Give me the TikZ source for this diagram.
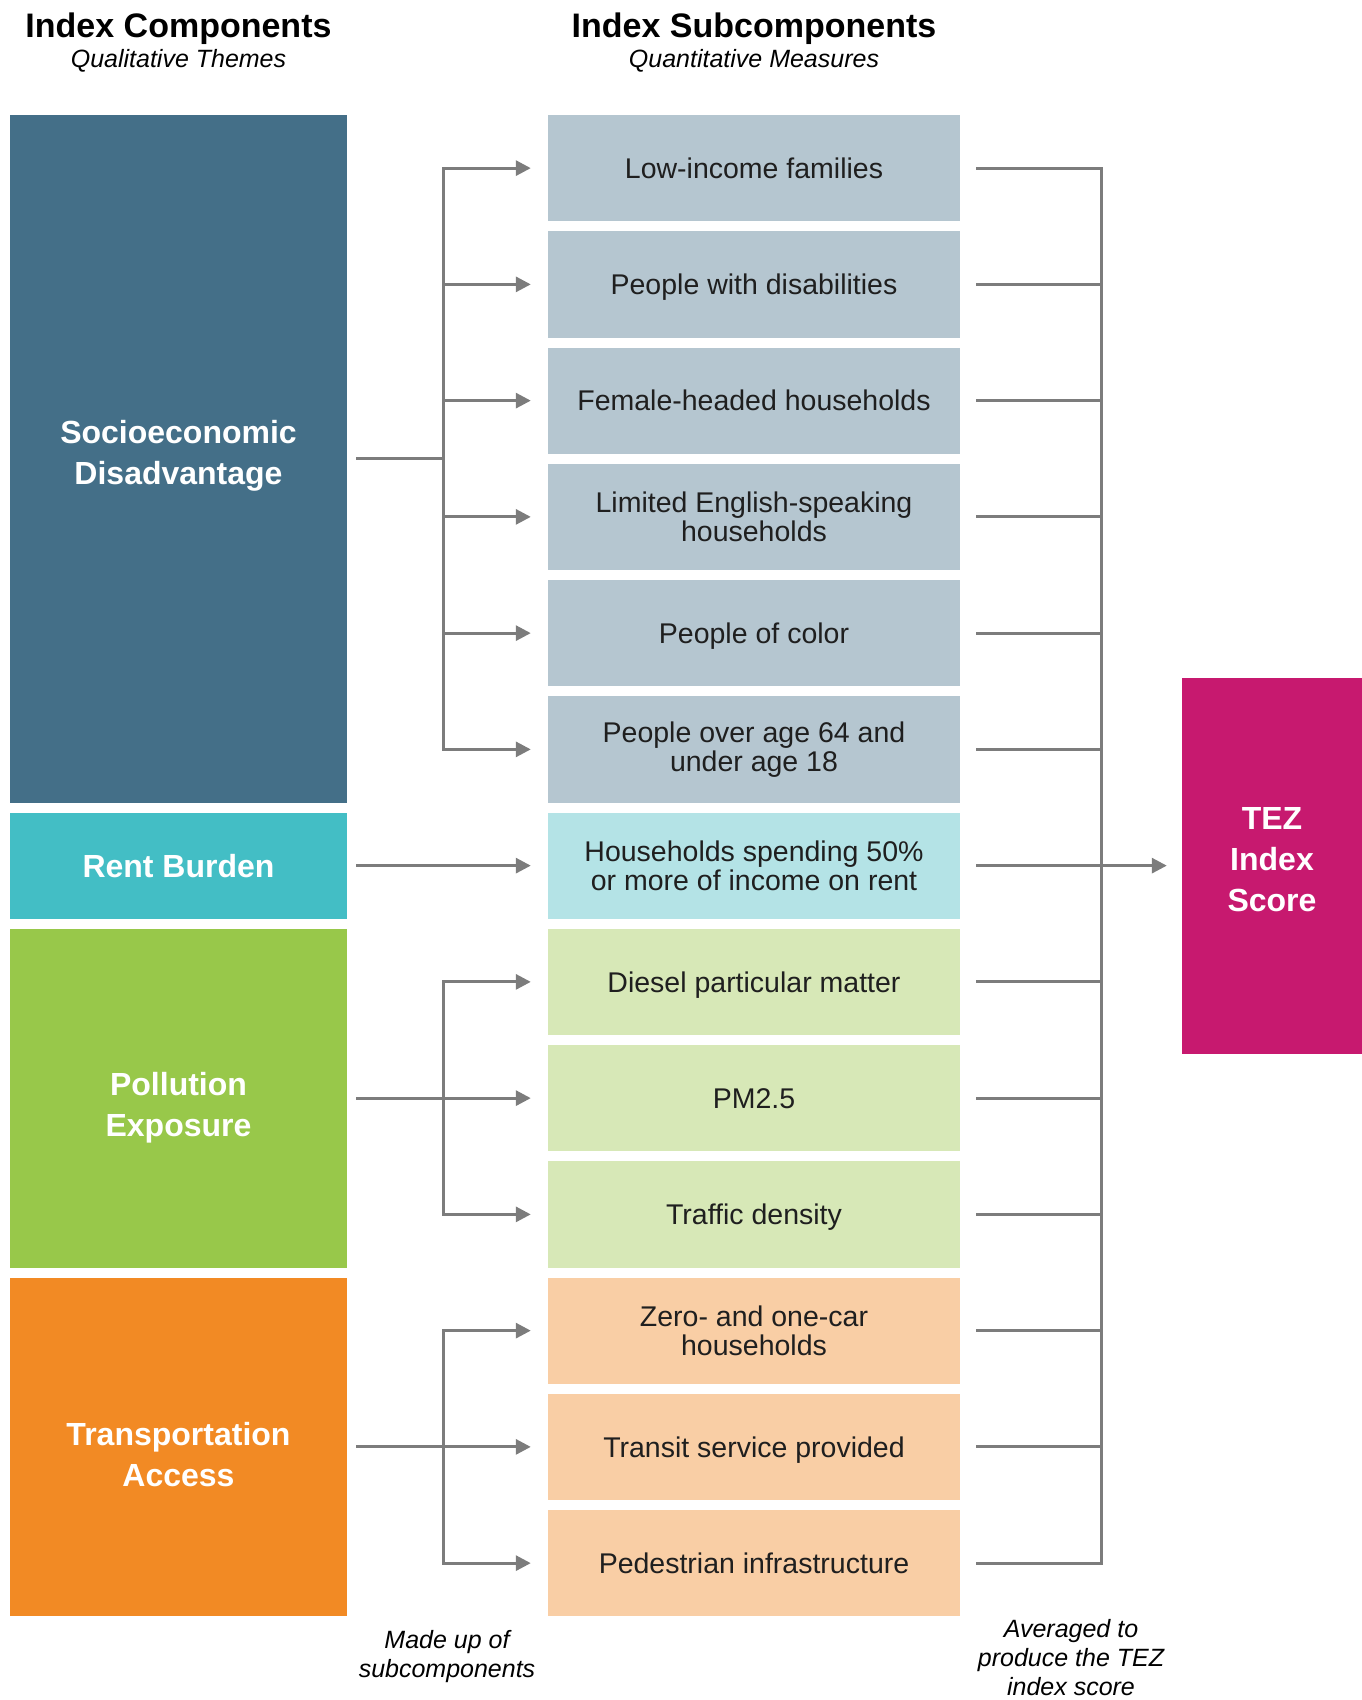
\documentclass[tikz,border=0pt]{standalone}
\usepackage{fontspec}
\setmainfont{Liberation Sans}
\usetikzlibrary{arrows.meta}

\definecolor{socio}{HTML}{446F88}
\definecolor{rentc}{HTML}{43BEC5}
\definecolor{pollu}{HTML}{98C84A}
\definecolor{trans}{HTML}{F28A24}
\definecolor{socioL}{HTML}{B5C6D0}
\definecolor{rentL}{HTML}{B4E3E6}
\definecolor{polluL}{HTML}{D7E8B7}
\definecolor{transL}{HTML}{F9CEA5}
\definecolor{tezc}{HTML}{C7196F}
\definecolor{linegray}{HTML}{7C7C7C}

\tikzset{
  theme/.style={fill=#1, minimum width=337pt, inner sep=0pt},
  themetext/.style={text=white, font=\fontsize{32}{41}\selectfont\bfseries, align=center, inner sep=0pt},
  measure/.style={fill=#1, text=black!88, font=\fontsize{28.5}{29.5}\selectfont,
    align=center, minimum width=412pt, minimum height=106.25pt, inner sep=0pt},
  oneline/.style={text height=20.5pt, text depth=0pt},
  head/.style={font=\fontsize{34}{40}\selectfont\bfseries, inner sep=0pt},
  subhead/.style={font=\fontsize{25}{29}\selectfont\itshape, inner sep=0pt},
  note/.style={font=\fontsize{25}{29}\selectfont\itshape, align=center, inner sep=0pt},
  link/.style={draw=linegray, line width=3pt},
  feed/.style={link, -{Triangle[length=15pt,width=15pt]}, shorten >=17pt},
}

\begin{document}
\begin{tikzpicture}[x=1pt, y=-1pt]
    \useasboundingbox (0,0) rectangle (1361,1700);

    % column headings
    \node[head, anchor=base] (headL) at (178.5,37) {Index Components};
    \node[subhead, anchor=base] (subL) at (178.5,67) {Qualitative Themes};
    \node[head, anchor=base] (headR) at (754,37) {Index Subcomponents};
    \node[subhead, anchor=base] (subR) at (754,67) {Quantitative Measures};

    % themes
    \node[theme=socio, minimum height=687.5pt] (socio) at (178.5,458.75) {};
    \node[theme=rentc, minimum height=106.25pt] (rent) at (178.5,865.625) {};
    \node[theme=pollu, minimum height=338.75pt] (pollu) at (178.5,1098.125) {};
    \node[theme=trans, minimum height=338.75pt] (trans) at (178.5,1446.875) {};
    \node[themetext] (socioT) at ([yshift=3pt]socio.center) {Socioeconomic\\Disadvantage};
    \node[themetext] (rentT) at (rent.center) {Rent Burden};
    \node[themetext] (polluT) at ([yshift=-10pt]pollu.center) {Pollution\\Exposure};
    \node[themetext] (transT) at ([yshift=-8pt]trans.center) {Transportation\\Access};

    % measures
    \node[measure=socioL, oneline] (m1) at (754,168.125) {Low-income families};
    \node[measure=socioL, oneline] (m2) at (754,284.375) {People with disabilities};
    \node[measure=socioL, oneline] (m3) at (754,400.625) {Female-headed households};
    \node[measure=socioL] (m4) at (754,516.875) {Limited English-speaking\\households};
    \node[measure=socioL, oneline] (m5) at (754,633.125) {People of color};
    \node[measure=socioL] (m6) at (754,749.375) {People over age 64 and\\under age 18};
    \node[measure=rentL] (m7) at (754,865.625) {Households spending 50\%\\or more of income on rent};
    \node[measure=polluL, oneline] (m8) at (754,981.875) {Diesel particular matter};
    \node[measure=polluL, oneline] (m9) at (754,1098.125) {PM2.5};
    \node[measure=polluL, oneline] (m10) at (754,1214.375) {Traffic density};
    \node[measure=transL] (m11) at (754,1330.625) {Zero- and one-car\\households};
    \node[measure=transL, oneline] (m12) at (754,1446.875) {Transit service provided};
    \node[measure=transL, oneline] (m13) at (754,1563.125) {Pedestrian infrastructure};

    % score
    \node[fill=tezc, minimum width=180pt, minimum height=376pt, inner sep=0pt] (tez) at (1272,865.625) {};
    \node[themetext] (tezT) at ([yshift=6pt]tez.center) {TEZ\\Index\\Score};

    % captions
    \node[note] (made) at (447,1657) {Made up of\\subcomponents};
    \node[note] (avg) at (1071,1658) {Averaged to\\produce the TEZ\\index score};

    % buses
    \coordinate (lbus) at (443,0);
    \coordinate (rbus) at (1101,0);

    % themes -> measures
    \draw[link, shorten <=9pt] (socio.east) -- (socio.east -| lbus);
    \draw[link, line cap=rect] (m1.west -| lbus) -- (m6.west -| lbus);
    \foreach \i in {1,...,6}
        \draw[feed] (m\i.west -| lbus) -- (m\i.west);

    \draw[feed, shorten <=9pt] (rent.east) -- (m7.west);

    \draw[feed, shorten <=9pt] (pollu.east) -- (m9.west);
    \draw[link, line cap=rect] (m8.west -| lbus) -- (m10.west -| lbus);
    \draw[feed] (m8.west -| lbus) -- (m8.west);
    \draw[feed] (m10.west -| lbus) -- (m10.west);

    \draw[feed, shorten <=9pt] (trans.east) -- (m12.west);
    \draw[link, line cap=rect] (m11.west -| lbus) -- (m13.west -| lbus);
    \draw[feed] (m11.west -| lbus) -- (m11.west);
    \draw[feed] (m13.west -| lbus) -- (m13.west);

    % measures -> score
    \foreach \i in {1,...,13}
        \draw[link, shorten <=16pt] (m\i.east) -- (m\i.east -| rbus);
    \draw[link, line cap=rect] (m1.east -| rbus) -- (m13.east -| rbus);
    \draw[feed, shorten >=15pt] (m7.east -| rbus) -- (m7.east -| tez.west);
\end{tikzpicture}
\end{document}
